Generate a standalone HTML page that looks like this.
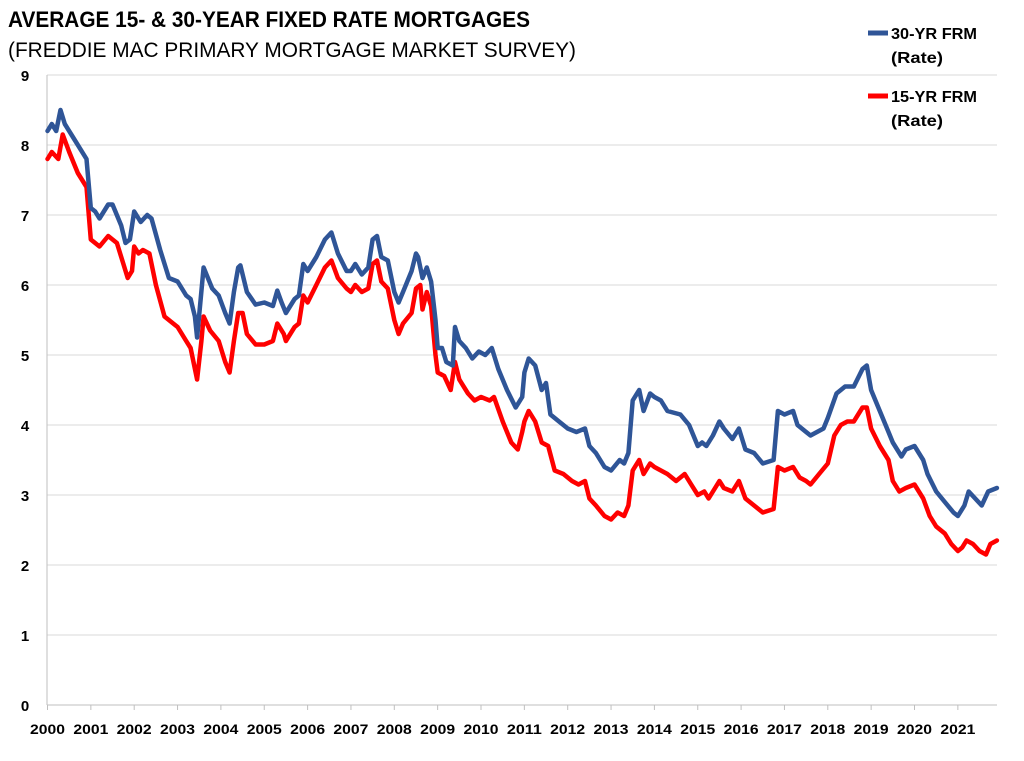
<!DOCTYPE html>
<html><head><meta charset="utf-8"><style>
html,body{margin:0;padding:0;background:#fff}
svg{display:block}
text{font-family:"Liberation Sans",sans-serif}
</style></head><body>
<svg id="c" width="1024" height="761" xmlns="http://www.w3.org/2000/svg">
<text x="8" y="27" font-size="22" font-weight="bold" textLength="522" lengthAdjust="spacingAndGlyphs">AVERAGE 15- &amp; 30-YEAR FIXED RATE MORTGAGES</text>
<text x="8" y="57" font-size="21" textLength="568" lengthAdjust="spacingAndGlyphs">(FREDDIE MAC PRIMARY MORTGAGE MARKET SURVEY)</text>
<g id="grid"></g>
<g id="series"></g>
<line x1="868" y1="33" x2="888" y2="33" stroke="#2f5597" stroke-width="5"/>
<text x="891" y="39" font-size="16" font-weight="bold" textLength="86" lengthAdjust="spacingAndGlyphs">30-YR FRM</text>
<text x="891" y="63" font-size="16" font-weight="bold" textLength="52" lengthAdjust="spacingAndGlyphs">(Rate)</text>
<line x1="868" y1="96" x2="888" y2="96" stroke="#ff0000" stroke-width="5"/>
<text x="891" y="102" font-size="16" font-weight="bold" textLength="86" lengthAdjust="spacingAndGlyphs">15-YR FRM</text>
<text x="891" y="126" font-size="16" font-weight="bold" textLength="52" lengthAdjust="spacingAndGlyphs">(Rate)</text>
</svg>
<script>
var NS="http://www.w3.org/2000/svg";
function el(t,a,p,txt){var e=document.createElementNS(NS,t);for(var k in a)e.setAttribute(k,a[k]);if(txt!=null)e.textContent=txt;p.appendChild(e);return e;}
var X0=47.5,XS=43.35,Y0=705,YS=70;
function X(t){return X0+(t-2000)*XS}function Y(v){return Y0-v*YS}
var g=document.getElementById('grid');
for(var i=1;i<=9;i++){el('line',{x1:47,x2:997,y1:Y(i),y2:Y(i),stroke:'#d9d9d9','stroke-width':1},g);}
for(var i=0;i<=9;i++){el('text',{x:25,y:Y(i)+6,'font-size':15,'font-weight':'bold','text-anchor':'middle'},g,String(i));}
el('line',{x1:47,x2:47,y1:Y(9),y2:Y0,stroke:'#bfbfbf'},g);
el('line',{x1:47,x2:997,y1:Y0,y2:Y0,stroke:'#bfbfbf'},g);
for(var y=0;y<=21;y++){var x=X(y+2000);el('line',{x1:x,x2:x,y1:Y0,y2:Y0+5,stroke:'#bfbfbf'},g);
el('text',{x:x,y:734,'font-size':14,'font-weight':'bold','text-anchor':'middle',textLength:35,lengthAdjust:'spacingAndGlyphs'},g,String(2000+y));}
var a30=[2000.0,8.2,2000.1,8.3,2000.2,8.2,2000.3,8.5,2000.4,8.3,2000.6,8.1,2000.9,7.8,2001.0,7.1,2001.1,7.05,2001.2,6.95,2001.4,7.15,2001.5,7.15,2001.7,6.85,2001.8,6.6,2001.9,6.65,2002.0,7.05,2002.15,6.9,2002.3,7.0,2002.4,6.95,2002.6,6.5,2002.8,6.1,2003.0,6.05,2003.2,5.85,2003.3,5.8,2003.4,5.55,2003.45,5.25,2003.6,6.25,2003.7,6.1,2003.8,5.95,2003.95,5.85,2004.1,5.6,2004.2,5.45,2004.3,5.9,2004.4,6.25,2004.45,6.28,2004.6,5.9,2004.8,5.72,2005.0,5.75,2005.2,5.7,2005.3,5.92,2005.4,5.75,2005.5,5.6,2005.7,5.8,2005.8,5.85,2005.9,6.3,2006.0,6.2,2006.2,6.4,2006.4,6.65,2006.55,6.75,2006.7,6.45,2006.9,6.2,2007.0,6.2,2007.1,6.3,2007.25,6.15,2007.4,6.25,2007.5,6.65,2007.6,6.7,2007.7,6.4,2007.85,6.35,2008.0,5.9,2008.1,5.75,2008.2,5.9,2008.4,6.2,2008.5,6.45,2008.55,6.4,2008.65,6.1,2008.75,6.25,2008.85,6.05,2008.95,5.5,2009.0,5.1,2009.1,5.1,2009.2,4.9,2009.35,4.85,2009.4,5.4,2009.5,5.2,2009.65,5.1,2009.8,4.95,2009.95,5.05,2010.1,5.0,2010.25,5.1,2010.4,4.8,2010.6,4.5,2010.8,4.25,2010.95,4.4,2011.0,4.75,2011.1,4.95,2011.25,4.85,2011.4,4.5,2011.5,4.6,2011.6,4.15,2011.8,4.05,2012.0,3.95,2012.2,3.9,2012.4,3.95,2012.5,3.7,2012.65,3.6,2012.85,3.4,2013.0,3.35,2013.2,3.5,2013.3,3.45,2013.4,3.6,2013.5,4.35,2013.65,4.5,2013.75,4.2,2013.9,4.45,2014.0,4.4,2014.15,4.35,2014.3,4.2,2014.6,4.15,2014.8,4.0,2015.0,3.7,2015.1,3.75,2015.2,3.7,2015.35,3.85,2015.5,4.05,2015.6,3.95,2015.8,3.8,2015.95,3.95,2016.1,3.65,2016.3,3.6,2016.5,3.45,2016.75,3.5,2016.85,4.2,2017.0,4.15,2017.2,4.2,2017.3,4.0,2017.5,3.9,2017.6,3.85,2017.9,3.95,2018.0,4.1,2018.2,4.45,2018.4,4.55,2018.6,4.55,2018.8,4.8,2018.9,4.85,2019.0,4.5,2019.2,4.2,2019.4,3.9,2019.5,3.75,2019.7,3.55,2019.8,3.65,2020.0,3.7,2020.2,3.5,2020.3,3.3,2020.5,3.05,2020.7,2.9,2020.9,2.75,2021.0,2.7,2021.15,2.85,2021.25,3.05,2021.4,2.95,2021.55,2.85,2021.7,3.05,2021.9,3.1];
var a15=[2000.0,7.8,2000.1,7.9,2000.25,7.8,2000.35,8.15,2000.5,7.9,2000.7,7.6,2000.9,7.4,2001.0,6.65,2001.2,6.55,2001.4,6.7,2001.6,6.6,2001.75,6.3,2001.85,6.1,2001.95,6.2,2002.0,6.55,2002.1,6.45,2002.2,6.5,2002.35,6.45,2002.5,6.0,2002.7,5.55,2002.9,5.45,2003.0,5.4,2003.2,5.2,2003.3,5.1,2003.45,4.65,2003.55,5.2,2003.6,5.55,2003.75,5.35,2003.95,5.2,2004.1,4.9,2004.2,4.75,2004.3,5.2,2004.4,5.6,2004.5,5.6,2004.6,5.3,2004.8,5.15,2005.0,5.15,2005.2,5.2,2005.3,5.45,2005.45,5.3,2005.5,5.2,2005.7,5.4,2005.8,5.45,2005.9,5.85,2006.0,5.75,2006.2,6.0,2006.4,6.25,2006.55,6.35,2006.7,6.1,2006.9,5.95,2007.0,5.9,2007.1,6.0,2007.25,5.9,2007.4,5.95,2007.5,6.3,2007.6,6.35,2007.7,6.05,2007.85,5.95,2008.0,5.5,2008.1,5.3,2008.2,5.45,2008.4,5.6,2008.5,5.95,2008.6,6.0,2008.65,5.65,2008.75,5.9,2008.85,5.7,2008.95,5.0,2009.0,4.75,2009.15,4.7,2009.3,4.5,2009.4,4.9,2009.5,4.65,2009.7,4.45,2009.85,4.35,2010.0,4.4,2010.2,4.35,2010.3,4.4,2010.5,4.05,2010.7,3.75,2010.85,3.65,2010.95,3.9,2011.0,4.05,2011.1,4.2,2011.25,4.05,2011.4,3.75,2011.55,3.7,2011.7,3.35,2011.9,3.3,2012.1,3.2,2012.25,3.15,2012.4,3.2,2012.5,2.95,2012.65,2.85,2012.85,2.7,2013.0,2.65,2013.15,2.75,2013.3,2.7,2013.4,2.85,2013.5,3.35,2013.65,3.5,2013.75,3.3,2013.9,3.45,2014.0,3.4,2014.15,3.35,2014.3,3.3,2014.5,3.2,2014.7,3.3,2014.85,3.15,2015.0,3.0,2015.15,3.05,2015.25,2.95,2015.4,3.1,2015.5,3.2,2015.6,3.1,2015.8,3.05,2015.95,3.2,2016.1,2.95,2016.3,2.85,2016.5,2.75,2016.75,2.8,2016.85,3.4,2017.0,3.35,2017.2,3.4,2017.35,3.25,2017.5,3.2,2017.6,3.15,2017.8,3.3,2018.0,3.45,2018.15,3.85,2018.3,4.0,2018.45,4.05,2018.6,4.05,2018.8,4.25,2018.9,4.25,2019.0,3.95,2019.2,3.7,2019.4,3.5,2019.5,3.2,2019.65,3.05,2019.8,3.1,2020.0,3.15,2020.2,2.95,2020.35,2.7,2020.5,2.55,2020.7,2.45,2020.85,2.3,2021.0,2.2,2021.1,2.25,2021.2,2.35,2021.35,2.3,2021.5,2.2,2021.65,2.15,2021.75,2.3,2021.9,2.35];
var s=document.getElementById('series');
function pl(a,c){var p=[];for(var i=0;i<a.length;i+=2)p.push(X(a[i]).toFixed(1)+','+Y(a[i+1]).toFixed(1));
el('polyline',{points:p.join(' '),fill:'none',stroke:c,'stroke-width':4.5,'stroke-linejoin':'round','stroke-linecap':'round'},s);}
pl(a15,'#ff0000');pl(a30,'#2f5597');
</script>
</body></html>
